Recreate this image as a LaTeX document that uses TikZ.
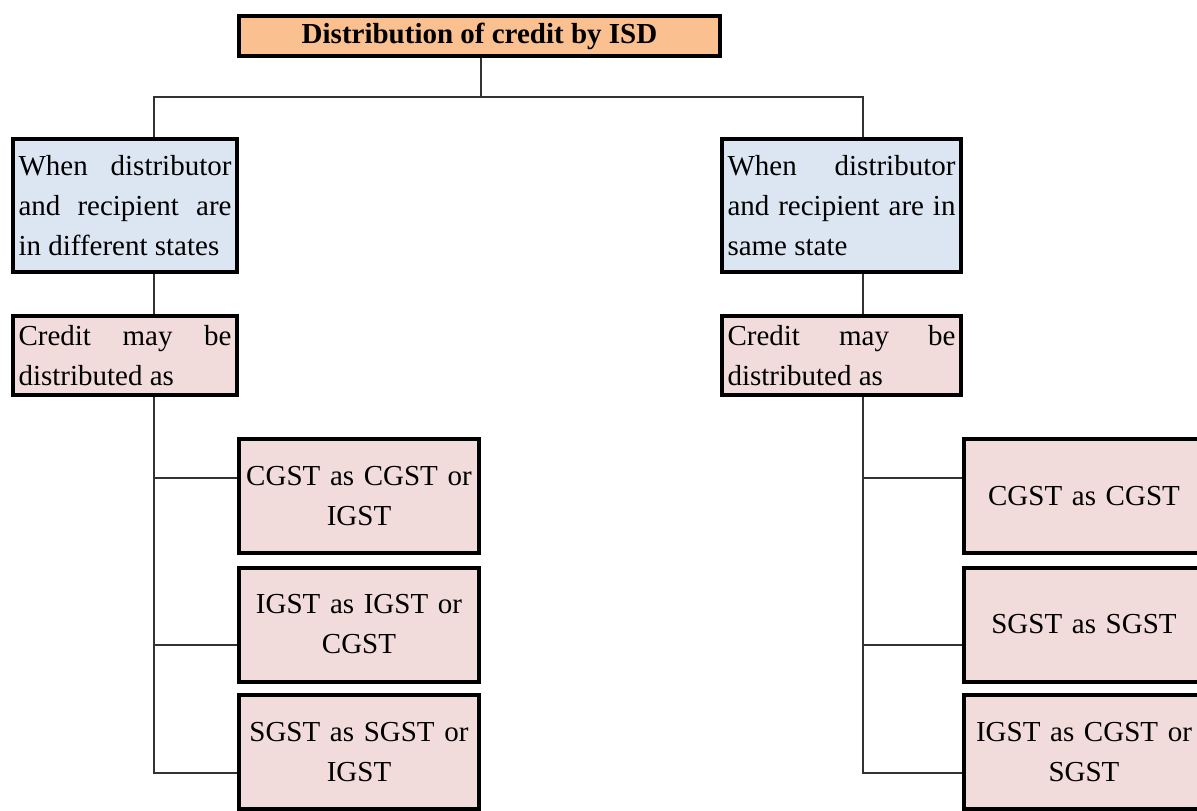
\documentclass[tikz,border=0pt]{standalone}
\usepackage{fontspec}
\setmainfont{Liberation Serif}
\usetikzlibrary{positioning}
\definecolor{titlefill}{RGB}{250,192,143}
\definecolor{casefill}{RGB}{220,230,242}
\definecolor{creditfill}{RGB}{242,220,219}
\definecolor{wire}{RGB}{50,50,50}

\begin{document}
\begin{tikzpicture}[x=0.5pt, y=-0.5pt]
	\tikzstyle{box} = [draw=black, line width=2pt, inner xsep=2.75pt, inner ysep=0pt,
		font=\fontsize{14.5}{20}\selectfont]
	\tikzstyle{titlebox} = [box, fill=titlefill, minimum width=240.5pt, minimum height=20pt, font=\fontsize{14.5}{20}\selectfont\bfseries]
	\tikzstyle{casebox} = [box, fill=casefill, align=justify, minimum height=66.5pt]
	\tikzstyle{creditbox} = [box, fill=creditfill, align=justify, minimum height=39.5pt]
	\tikzstyle{taxbox} = [box, fill=creditfill, align=center, text width=114.5pt, minimum height=57pt]
	\tikzstyle{wire} = [draw=wire, line width=1pt]

	\fill[white] (0,0) rectangle (1197,810);
	\useasboundingbox (0,0) rectangle (1197,810);

	\node[titlebox] (title) at (479.5,36) {Distribution of credit by ISD};

	\node[casebox, text width=106.5pt] (lcase) at (125,205.5)
		{When distributor\linebreak and recipient are\linebreak in different states};
	\node[casebox, text width=114pt] (rcase) at (841.5,205.5)
		{When distributor\linebreak and recipient are in\linebreak same state};

	\node[creditbox, text width=106.5pt] (lcredit) at (125,355.5)
		{Credit may be\linebreak distributed as};
	\node[creditbox, text width=114pt] (rcredit) at (841.5,355.5)
		{Credit may be\linebreak distributed as};

	\node[taxbox] (lc1) at (359,496) {CGST as CGST or\\IGST};
	\node[taxbox] (lc2) at (359,624.5) {IGST as IGST or\\CGST};
	\node[taxbox] (lc3) at (359,752) {SGST as SGST or\\IGST};

	\node[taxbox] (rc1) at (1084,496) {CGST as CGST};
	\node[taxbox] (rc2) at (1084,624.5) {SGST as SGST};
	\node[taxbox] (rc3) at (1084,752) {IGST as CGST or\\SGST};

	% trunk lines
	\coordinate (split) at (481,97);
	\coordinate (ltrunk) at (154,97);
	\coordinate (rtrunk) at (863,97);

	\draw[wire] (split |- title.south) -- (split);
	\draw[wire] (ltrunk |- lcase.north) -- (ltrunk) -- (rtrunk) -- (rtrunk |- rcase.north);

	\draw[wire] (ltrunk |- lcase.south) -- (ltrunk |- lcredit.north);
	\draw[wire] (rtrunk |- rcase.south) -- (rtrunk |- rcredit.north);

	% branches
	\draw[wire] (ltrunk |- lcredit.south) |- ([yshift=-10.5pt]lc3.west);
	\draw[wire] (ltrunk |- lc1.west) ++(0,-18) coordinate (lb1) -- (lb1 -| lc1.west);
	\draw[wire] (ltrunk |- lc2.west) ++(0,20.5) coordinate (lb2) -- (lb2 -| lc2.west);

	\draw[wire] (rtrunk |- rcredit.south) |- ([yshift=-10.5pt]rc3.west);
	\draw[wire] (rtrunk |- rc1.west) ++(0,-18) coordinate (rb1) -- (rb1 -| rc1.west);
	\draw[wire] (rtrunk |- rc2.west) ++(0,20.5) coordinate (rb2) -- (rb2 -| rc2.west);
\end{tikzpicture}
\end{document}
